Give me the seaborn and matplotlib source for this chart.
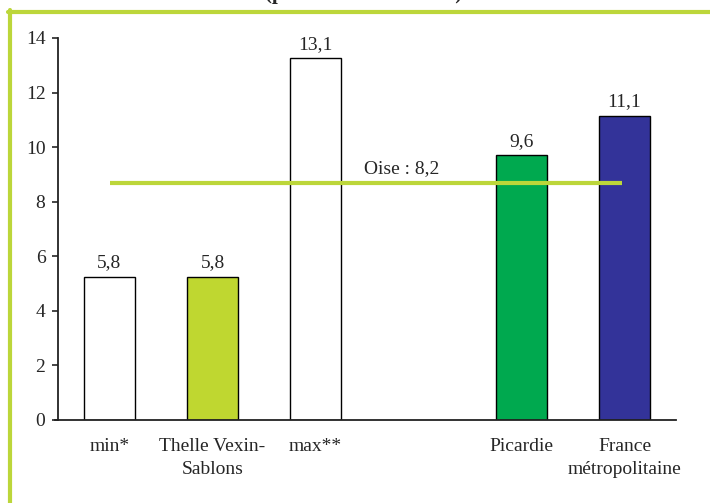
import matplotlib
matplotlib.use("Agg")
import matplotlib.pyplot as plt
from matplotlib.lines import Line2D
import seaborn as sns
import pandas as pd

# values as drawn in the chart (bar heights) and their printed labels
categories = ["min*", "Thelle Vexin-\nSablons", "max**", "Picardie", "France\nmétropolitaine"]
heights = [5.25, 5.25, 13.25, 9.7, 11.15]
value_labels = ["5,8", "5,8", "13,1", "9,6", "11,1"]
bar_colors = ["white", "#bfd730", "white", "#00a94f", "#333399"]
slot_order = ["min*", "Thelle Vexin-\nSablons", "max**", " ", "Picardie", "France\nmétropolitaine"]
oise_value = 8.7
oise_label = "Oise : 8,2"
title_fragment = "(pour 1 000 habitants)"

GREEN = "#bcd63a"
FS = 14

sns.set_style("white")
plt.rcParams["font.family"] = ["Liberation Serif", "DejaVu Serif"]

df = pd.DataFrame({"zone": categories, "value": heights})

fig = plt.figure(figsize=(7.1, 5.03), dpi=100)
ax = fig.add_axes([58 / 710, 1 - 420 / 503, (676 - 58) / 710, (420 - 38) / 503])

sns.barplot(
    data=df, x="zone", y="value", hue="zone", order=slot_order,
    palette=dict(zip(categories, bar_colors)), legend=False,
    width=0.5, edgecolor="black", linewidth=1, saturation=1, ax=ax,
)

# value labels above each bar
for zone, h, lab in zip(categories, heights, value_labels):
    xpos = slot_order.index(zone)
    ax.text(xpos, h + 0.2, lab, ha="center", va="bottom", fontsize=FS)

# Oise reference line
ax.plot([0, 4.98], [oise_value, oise_value], color=GREEN, lw=3, solid_capstyle="butt", zorder=5)
ax.text(2.47, oise_value + 0.22, oise_label, ha="left", va="bottom", fontsize=FS)

ax.set_ylim(0, 14)
ax.set_xlim(-0.5, 5.5)
ax.set_yticks(range(0, 15, 2))
ax.set_xticks(range(len(slot_order)))
ax.set_xticklabels(slot_order, linespacing=1.45)
ax.set_xlabel("")
ax.set_ylabel("")
ax.tick_params(axis="y", direction="out", length=4, width=1.2, labelsize=FS, pad=5, left=True)
ax.tick_params(axis="x", length=0, labelsize=FS, pad=13)
for s in ["top", "right"]:
    ax.spines[s].set_visible(False)
for s in ["left", "bottom"]:
    ax.spines[s].set_color("#222222")
    ax.spines[s].set_linewidth(1.3)
ax.spines["bottom"].set_bounds(-0.53, 5.5)

# green frame, cut at right and bottom
fig.add_artist(Line2D([8 / 710, 1], [1 - 11.5 / 503] * 2, color=GREEN, lw=3, transform=fig.transFigure))
fig.add_artist(Line2D([10 / 710] * 2, [0, 1 - 10 / 503], color=GREEN, lw=3, transform=fig.transFigure))

# partially cropped title
fig.text(364 / 710, 1 + 0.5 / 503, title_fragment, ha="center", va="baseline",
         fontsize=15, fontweight="bold")

fig.savefig("out.png", dpi=100)
